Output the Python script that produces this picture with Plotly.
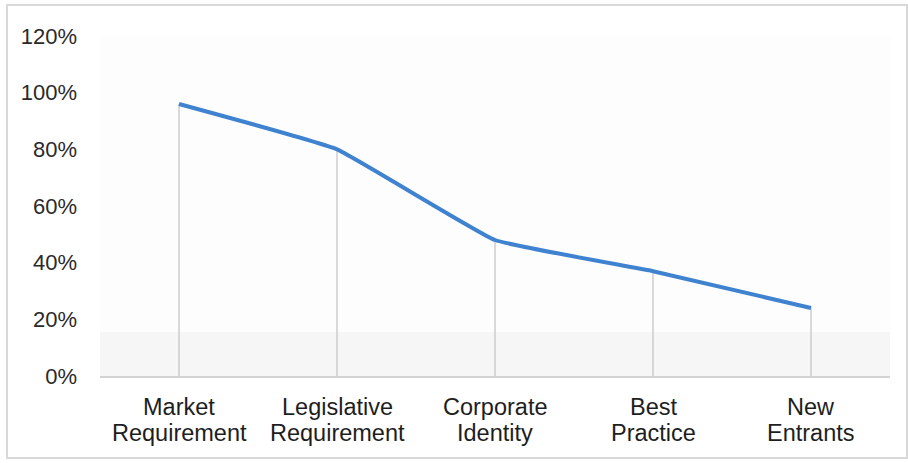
import plotly.graph_objects as go

# Share of respondents citing each driver
categories = ["Market Requirement", "Legislative Requirement", "Corporate Identity",
              "Best Practice", "New Entrants"]
shares = [0.96, 0.80, 0.48, 0.37, 0.24]
tick_values = [0, 0.2, 0.4, 0.6, 0.8, 1.0, 1.2]
tick_labels = ["0%", "20%", "40%", "60%", "80%", "100%", "120%"]

W, H = 908, 463
L, R, T, B = 100, 18, 36, 87

fig = go.Figure()

# Smoothed line with thin drop lines from each point to the axis
fig.add_trace(go.Scatter(
    x=categories, y=shares,
    mode="lines",
    line=dict(color="#3f82cf", width=4, shape="spline", smoothing=0.3),
    error_y=dict(type="data", symmetric=False,
                 array=[0] * len(shares), arrayminus=shares,
                 color="#cccccc", thickness=1.5, width=0),
    hoverinfo="x+y",
    showlegend=False,
))

pw = W - L - R
ph = H - T - B

def px_x(v):
    return (v - L) / pw

def px_y(v):
    return (H - B - v) / ph

# Two-line category labels with tight line spacing
label_font = dict(family="Liberation Sans, Arial, sans-serif", size=23.5, color="#1e1e1e")
annotations = []
for cat in categories:
    first, second = cat.split(" ", 1)
    for text, shift in ((first, -31), (second, -57)):
        annotations.append(dict(
            x=cat, y=0, xref="x", yref="paper",
            text=text, showarrow=False,
            xanchor="center", yanchor="middle", yshift=shift,
            font=label_font,
        ))

fig.update_layout(
    width=W, height=H,
    margin=dict(l=L, r=R, t=T, b=B),
    paper_bgcolor="white",
    plot_bgcolor="#fdfdfd",
    font=dict(family="Liberation Sans, Arial, sans-serif", color="#2a2a2a"),
    xaxis=dict(
        type="category",
        range=[-0.5, len(categories) - 0.5],
        showgrid=False, zeroline=False,
        showline=True, linecolor="#d3d3d3", linewidth=2,
        ticks="", showticklabels=False,
        fixedrange=True,
    ),
    yaxis=dict(
        range=[0, 1.2],
        tickvals=tick_values, ticktext=tick_labels,
        showgrid=False, zeroline=False, showline=False,
        ticks="", tickfont=dict(size=22, color="#2a2a2a"),
        ticklabelstandoff=22,
        fixedrange=True,
    ),
    annotations=annotations,
    shapes=[
        # faint shaded band along the floor of the plot area
        dict(type="rect", xref="paper", yref="paper", layer="below",
             x0=0, x1=1, y0=0, y1=px_y(332),
             fillcolor="#f6f6f6", line=dict(width=0)),
        # outer chart frame
        dict(type="rect", xref="paper", yref="paper", layer="below",
             x0=px_x(7), x1=px_x(907), y0=px_y(458), y1=px_y(5),
             fillcolor="rgba(0,0,0,0)", line=dict(color="#d9d9d9", width=2)),
    ],
)

fig.write_html("out.html")
